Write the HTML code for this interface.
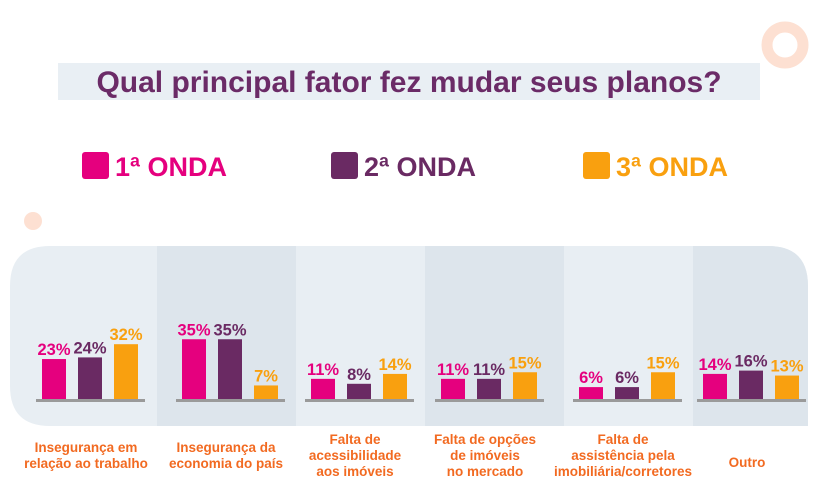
<!DOCTYPE html>
<html><head><meta charset="utf-8">
<style>
body{margin:0;width:818px;height:493px;background:#fff;overflow:hidden;font-family:"Liberation Sans","DejaVu Sans",sans-serif;}
svg{display:block}
</style></head>
<body>
<svg id="c" width="818" height="493">
  <circle cx="785" cy="45" r="18" fill="none" stroke="#fde0d2" stroke-width="11"/>
  <circle cx="33" cy="221" r="9" fill="#fde0d2"/>
  <rect x="58" y="63" width="702" height="37" fill="#e9eff4"/>
  <text x="409" y="92" text-anchor="middle" font-size="30" font-weight="bold" fill="#6b2b67">Qual principal fator fez mudar seus planos?</text>
  <g id="legend"></g>
  <path d="M50 246 H768 Q808 246 808 286 V426 H50 Q10 426 10 386 V286 Q10 246 50 246Z" fill="#e8eef3"/>
  <g id="bands"></g>
  <g id="marks"></g>
</svg>
<script>
const categories=["Insegurança em|relação ao trabalho","Insegurança da|economia do país","Falta de|acessibilidade|aos imóveis","Falta de opções|de imóveis|no mercado","Falta de|assistência pela|imobiliária/corretores","Outro"];
const wave1=[23,35,11,11,6,14];
const wave2=[24,35,8,11,6,16];
const wave3=[32,7,14,15,15,13];
const seriesNames=["1ª ONDA","2ª ONDA","3ª ONDA"];
const colors=["#e5007e","#6a2a63","#f9a00f"];
const NS="http://www.w3.org/2000/svg";
const svg=document.getElementById('c');
function mk(tag,attrs,parent){const e=document.createElementNS(NS,tag);for(const k in attrs)e.setAttribute(k,attrs[k]);parent.appendChild(e);return e;}
const centers=[90,230,359,489,627,751];
const bounds=[[10,157],[157,296],[296,425],[425,564],[564,693],[693,808]];
const baseY=399;
function yScale(v){return baseY-(1.65*v+2);}
const bands=document.getElementById('bands');
bounds.forEach((b,i)=>{if(i%2===1){
 const r=mk('rect',{x:b[0],y:246,width:(i===5?b[1]-b[0]-40:b[1]-b[0]),height:180,fill:'#dde5ec'},bands);
 
 
 if(i===5){const p=mk('path',{d:`M${b[1]-40} 246 H768 Q808 246 808 286 V426 H${b[1]-40}Z`,fill:'#dde5ec'},bands);
 
 }
}});
const lg=document.getElementById('legend');
const lgx=[82,331,583];
seriesNames.forEach((n,i)=>{
 const r=mk('rect',{x:lgx[i],y:152,width:27,height:27,rx:3,fill:colors[i]},lg);
 
 
 const t=mk('text',{x:lgx[i]+33,y:176,'font-size':27,'font-weight':'bold',fill:colors[i]},lg);
 t.textContent=n;
 
 
});
const marks=document.getElementById('marks');
const series=[wave1,wave2,wave3];
const offs=[-48,-12,24];
categories.forEach((c,i)=>{
 series.forEach((s,j)=>{
  const x=centers[i]+offs[j];const y=yScale(s[i]);
  const r=mk('rect',{x:x,y:y,width:24,height:baseY-y,fill:colors[j]},marks);
  
  
  const t=mk('text',{x:x+12,y:y-4,'text-anchor':'middle','font-size':16.5,'font-weight':'bold',fill:colors[j]},marks);
  t.textContent=s[i]+'%';
  
  
 });
 const l=mk('rect',{x:centers[i]-54,y:baseY,width:109,height:3,fill:'#9a9a9a'},marks);
 
 
 const lines=c.split('|');
 const y0=lines.length===1?467:(lines.length===2?452:444);
 lines.forEach((ln,k)=>{
  const t=mk('text',{x:centers[i]-4,y:y0+k*16,'text-anchor':'middle','font-size':13.5,'font-weight':'bold',fill:'#f26a21'},marks);
  t.textContent=ln;
  
  
 });
});
</script>
</body></html>
